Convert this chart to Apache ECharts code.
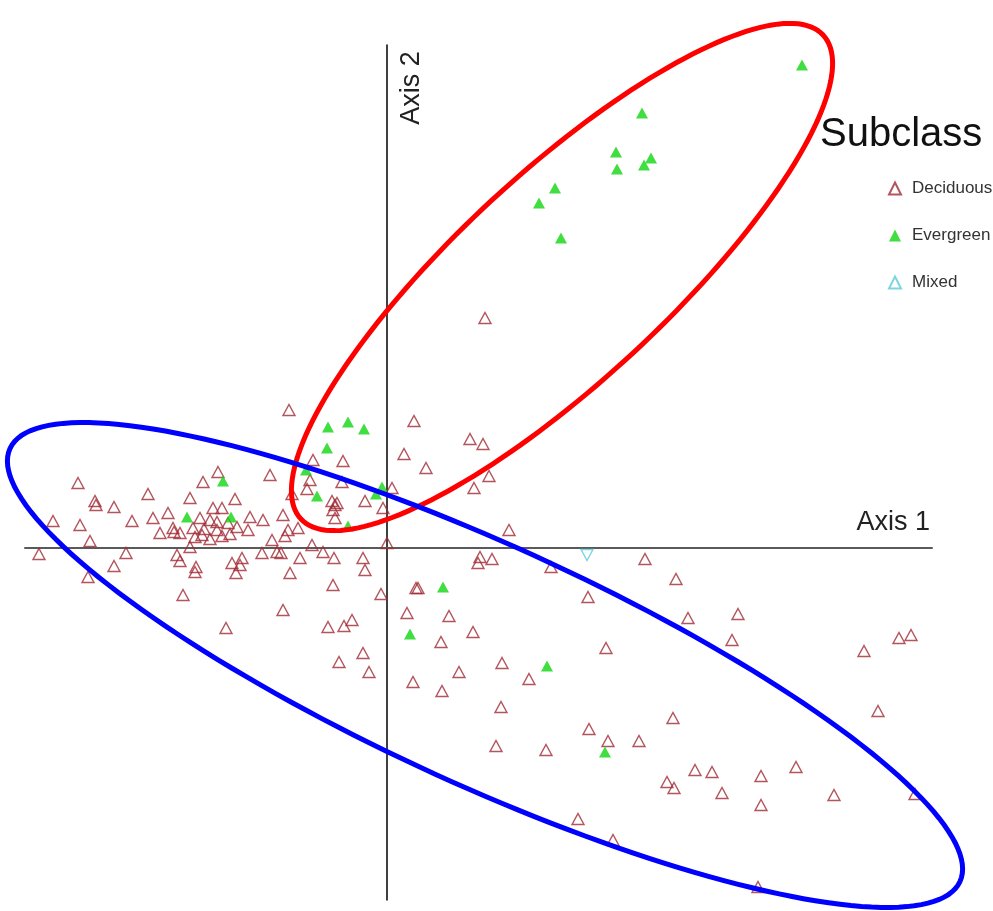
<!DOCTYPE html>
<html>
<head>
<meta charset="utf-8">
<script src="https://cdn.jsdelivr.net/npm/echarts@6/dist/echarts.min.js"></script>
<style>
  html, body { margin: 0; padding: 0; background: #fff; }
  #chart { width: 993px; height: 911px; }
</style>
</head>
<body>
<div id="chart"></div>
<script>
// ordination scores [axis1, axis2]
const deciduous = [
  [-1.74, -0.03], [-1.67, 0.135], [-1.545, 0.325], [-1.535, 0.115], [-1.495, -0.145],
  [-1.485, 0.035], [-1.46, 0.235], [-1.455, 0.215], [-1.365, 0.205], [-1.365, -0.09],
  [-1.305, -0.025], [-1.275, 0.135], [-1.195, 0.27], [-1.17, 0.15], [-1.095, 0.175],
  [-1.135, 0.075], [-1.07, 0.10], [-1.065, 0.08], [-1.035, 0.075], [-0.985, 0.25],
  [-0.92, 0.33], [-0.985, 0.005], [-1.05, -0.035], [-1.035, -0.065], [-0.955, -0.095],
  [-0.96, -0.12], [-1.02, -0.235], [-0.935, 0.15], [-0.97, 0.10], [-0.96, 0.055],
  [-0.925, 0.065], [-0.885, 0.045], [-0.915, 0.095], [-0.885, 0.14], [-0.87, 0.20],
  [-0.845, 0.38], [-0.85, 0.13], [-0.85, 0.09], [-0.825, 0.20], [-0.825, 0.06],
  [-0.795, 0.125], [-0.785, 0.07], [-0.76, 0.245], [-0.75, 0.105], [-0.695, 0.09],
  [-0.685, 0.155], [-0.62, 0.14], [-0.575, 0.04], [-0.625, -0.025], [-0.55, -0.02],
  [-0.775, -0.075], [-0.725, -0.05], [-0.735, -0.085], [-0.755, -0.125], [-0.585, 0.365],
  [-0.805, -0.40], [-0.49, 0.69], [-0.37, 0.44], [-0.22, 0.435], [-0.385, 0.34],
  [-0.40, 0.295], [-0.225, 0.33], [-0.475, 0.27], [-0.275, 0.235], [-0.26, 0.215],
  [-0.25, 0.225], [-0.27, 0.19], [-0.26, 0.15], [-0.11, 0.235], [-0.02, 0.20],
  [0.025, 0.30], [-0.52, 0.165], [-0.445, 0.10], [-0.495, 0.09], [-0.51, 0.06],
  [-0.375, 0.015], [-0.32, -0.02], [-0.265, -0.05], [-0.435, -0.05], [-0.53, -0.025],
  [-0.12, -0.05], [-0.11, -0.11], [-0.485, -0.125], [-0.27, -0.185], [-0.03, -0.23],
  [0.0, 0.025], [-0.52, -0.31], [-0.295, -0.395], [-0.215, -0.39], [-0.175, -0.36],
  [-0.12, -0.525], [-0.24, -0.57], [-0.09, -0.62],
  [0.135, 0.635], [0.085, 0.47], [0.195, 0.40], [0.415, 0.545], [0.48, 0.52],
  [0.51, 0.36], [0.435, 0.30], [0.49, 1.15], [0.61, 0.09], [0.465, -0.045],
  [0.455, -0.075], [0.525, -0.055], [0.82, -0.095], [1.29, -0.055], [1.005, -0.245],
  [0.145, -0.20], [0.155, -0.20], [0.10, -0.325], [0.31, -0.34], [1.445, -0.155],
  [1.505, -0.35], [1.755, -0.33], [1.725, -0.46], [2.385, -0.515], [2.56, -0.45],
  [2.62, -0.435], [2.455, -0.815], [1.43, -0.85], [1.095, -0.50], [0.71, -0.655],
  [1.01, -0.905], [1.105, -0.965], [1.26, -0.965], [0.795, -1.01], [0.545, -0.99],
  [1.54, -1.11], [1.625, -1.12], [1.40, -1.17], [1.435, -1.20], [1.675, -1.225],
  [1.87, -1.14], [1.87, -1.285], [0.955, -1.355], [1.13, -1.46], [1.855, -1.695],
  [2.045, -1.095], [2.235, -1.235], [2.64, -1.23], [0.13, -0.67], [0.27, -0.47],
  [0.275, -0.715], [0.36, -0.62], [0.43, -0.42], [0.575, -0.575], [0.57, -0.795]
];

const evergreen = [
  [2.075, 2.415], [1.275, 2.175], [1.145, 1.98], [1.32, 1.95], [1.285, 1.915],
  [1.15, 1.895], [0.84, 1.80], [0.76, 1.725], [0.87, 1.55],
  [-0.295, 0.605], [-0.195, 0.63], [-0.115, 0.595], [-0.30, 0.50], [-0.405, 0.39],
  [-0.82, 0.335], [-0.35, 0.26], [-0.78, 0.155], [-1.00, 0.155], [-0.195, 0.11],
  [-0.055, 0.27], [-0.025, 0.305],
  [0.28, -0.195], [0.115, -0.43], [0.80, -0.59], [1.09, -1.02]
];

const mixed = [[1.00, -0.035]];

// group outlines: [centre x, centre y, semi-major, semi-minor, angle deg]
const redEllipse = [[0.875, 1.355, 1.78, 0.52, 42.8]];
const blueEllipse = [[0.49, -0.585, 2.61, 0.60, -24.5]];

const chart = echarts.init(document.getElementById('chart'));

function renderEllipse(params, api) {
  const c = api.coord([api.value(0), api.value(1)]);
  const s = api.size([1, 1]);
  const a = api.value(2), b = api.value(3);
  const t = api.value(4) * Math.PI / 180;
  const pts = [];
  for (let i = 0; i < 180; i++) {
    const u = i / 180 * 2 * Math.PI;
    const dx = a * Math.cos(u) * Math.cos(t) - b * Math.sin(u) * Math.sin(t);
    const dy = a * Math.cos(u) * Math.sin(t) + b * Math.sin(u) * Math.cos(t);
    pts.push([c[0] + dx * s[0], c[1] - dy * s[1]]);
  }
  return {
    type: 'polygon',
    shape: { points: pts },
    style: { fill: 'none', stroke: api.visual('color'), lineWidth: 5 }
  };
}

const hidden = {
  axisTick: { show: false },
  axisLabel: { show: false },
  splitLine: { show: false }
};

chart.setOption({
  animation: false,
  backgroundColor: '#fff',
  grid: { left: 25, right: 61, top: 45, bottom: 11 },
  title: {
    text: 'Subclass',
    left: 815,
    top: 110,
    textStyle: { fontSize: 40, fontWeight: 'normal', color: '#111', fontFamily: 'Liberation Sans' }
  },
  legend: {
    data: ['Deciduous', 'Evergreen', 'Mixed'],
    orient: 'vertical',
    left: 883,
    top: 175,
    itemWidth: 12,
    itemHeight: 12,
    itemGap: 30,
    selectedMode: false,
    textStyle: { fontSize: 17, color: '#333', fontFamily: 'Liberation Sans', lineHeight: 12, padding: [0, 0, 0, 6] }
  },
  xAxis: Object.assign({
    type: 'value',
    min: -1.81,
    max: 2.725,
    axisLine: { onZero: true, lineStyle: { color: '#5a5a5a', width: 2 } }
  }, hidden),
  yAxis: Object.assign({
    type: 'value',
    min: -1.76,
    max: 2.515,
    axisLine: { onZero: true, lineStyle: { color: '#000', width: 1.5 } }
  }, hidden),
  graphic: [
    {
      type: 'text', x: 930, y: 523,
      style: { text: 'Axis 1', align: 'right', verticalAlign: 'middle', font: '27px "Liberation Sans"', fill: '#222' }
    },
    {
      type: 'text', x: 412, y: 88, rotation: Math.PI / 2,
      style: { text: 'Axis 2', align: 'center', verticalAlign: 'middle', font: '27px "Liberation Sans"', fill: '#222' }
    }
  ],
  series: [
    {
      name: 'Deciduous',
      type: 'scatter',
      data: deciduous,
      symbol: 'triangle',
      symbolSize: [12, 11],
      itemStyle: { color: 'rgba(255,255,255,0)', borderColor: '#a02a34', borderWidth: 1.4 }
    },
    {
      name: 'Evergreen',
      type: 'scatter',
      data: evergreen,
      symbol: 'triangle',
      symbolSize: [12, 11],
      itemStyle: { color: '#11d611' }
    },
    {
      name: 'Mixed',
      type: 'scatter',
      data: mixed,
      symbol: 'triangle',
      symbolRotate: 180,
      symbolSize: [12, 11],
      itemStyle: { color: 'rgba(255,255,255,0)', borderColor: '#5ccbd8', borderWidth: 1.4 }
    },
    {
      type: 'custom',
      data: redEllipse,
      renderItem: renderEllipse,
      itemStyle: { color: '#ff0000' },
      silent: true,
      z: 5
    },
    {
      type: 'custom',
      data: blueEllipse,
      renderItem: renderEllipse,
      itemStyle: { color: '#0000ff' },
      silent: true,
      z: 5
    }
  ]
});
</script>
</body>
</html>
